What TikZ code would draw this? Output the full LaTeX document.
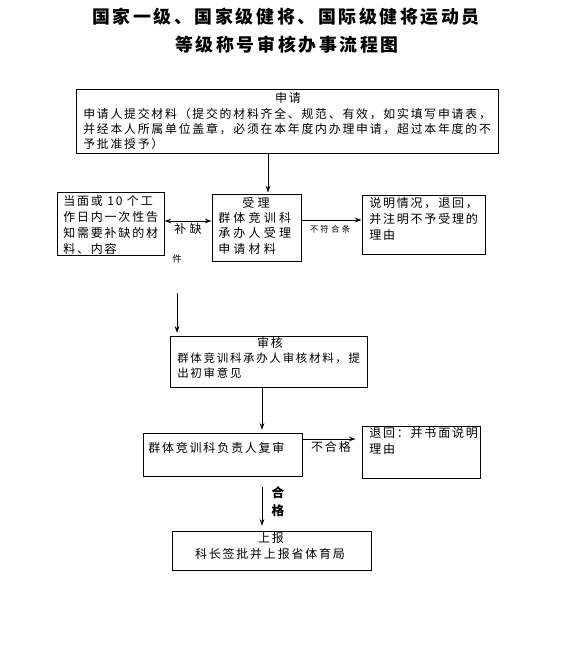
\documentclass[tikz,border=0pt]{standalone}
\usepackage{fontspec}
\usetikzlibrary{arrows.meta,fit}
\newfontfamily\cjk[LetterSpace=15]{Noto Sans CJK SC}
\newfontfamily\cjkwide[LetterSpace=27]{Noto Sans CJK SC}

\begin{document}
\begin{tikzpicture}[x=0.75pt, y=-0.75pt,
    box/.style={draw, line width=0.75pt, inner sep=0pt},
    txt/.style={inner sep=0pt, anchor=north west, align=left, font=\cjk\fontsize{9}{12}\selectfont},
    head/.style={inner sep=0pt, font=\cjk\fontsize{9}{12}\selectfont},
    arr/.style={-{Stealth[length=5pt,width=3.5pt]}, line width=0.75pt},
    darr/.style={{Stealth[length=5pt,width=3.5pt]}-{Stealth[length=5pt,width=3.5pt]}, line width=0.75pt}]

    \useasboundingbox (0,0) rectangle (573,645);

    % title
    \node[font=\cjk\bfseries\fontsize{13.4}{16}\selectfont] (title1) at (286,17) {国家一级、国家级健将、国际级健将运动员};
    \node[font=\cjk\bfseries\fontsize{13.4}{16}\selectfont] (title2) at (287,45) {等级称号审核办事流程图};

    % boxes
    \node[box, fit={(76,90) (498,154)}] (sq) {};
    \node[box, fit={(57,193) (164,255)}] (lb) {};
    \node[box, fit={(212,195) (301,261)}] (sl) {};
    \node[box, fit={(362,196) (485,254)}] (rb) {};
    \node[box, fit={(170,336) (367,387)}] (sh) {};
    \node[box, fit={(143,433) (302,476)}] (fs) {};
    \node[box, fit={(362,426) (480,478)}] (th) {};
    \node[box, fit={(172,531) (371,570)}] (sb) {};

    % texts in the boxes
    \node[head] (sqhead) at (288,98) {申请};
    \node[txt, font=\cjk\fontsize{8.9}{11.3}\selectfont] (sqtxt) at (83,108)
        {申请人提交材料（提交的材料齐全、规范、有效，如实填写申请表，\\并经本人所属单位盖章，必须在本年度内办理申请，超过本年度的不\\予批准授予）};
    \node[txt] (lbtxt) at (63,195) {当面或 10 个工\\作日内一次性告\\知需要补缺的材\\料、内容};
    \node[head, font=\cjkwide\fontsize{9}{12}\selectfont] (slhead) at (256,203) {受理};
    \node[txt, font=\cjkwide\fontsize{9}{11.6}\selectfont] (sltxt) at (218,212) {群体竞训科\\承办人受理\\申请材料};
    \node[txt] (rbtxt) at (369,197) {说明情况，退回，\\并注明不予受理的\\理由};
    \node[head] (shhead) at (270,343) {审核};
    \node[txt, font=\cjk\fontsize{8.6}{10.8}\selectfont] (shtxt) at (177,353) {群体竞训科承办人审核材料，提\\出初审意见};
    \node[head, anchor=west] (fstxt) at (148,448) {群体竞训科负责人复审};
    \node[txt] (thtxt) at (369,427.5) {退回：并书面说明\\理由};
    \node[head] (sbhead) at (271,538) {上报};
    \node[head] (sbtxt) at (270,554) {科长签批并上报省体育局};

    % connectors
    \coordinate (a1) at (268,0);
    \coordinate (a2) at (0,221);
    \coordinate (a3) at (0,220);
    \coordinate (a4) at (262,0);
    \coordinate (a5) at (0,439);
    \coordinate (bq) at (177,293);
    \draw[arr, shorten >=1.5pt] (sq.south -| a1) -- (sl.north -| a1);
    \draw[darr] (lb.east |- a2) -- (sl.west |- a2);
    \draw[arr] (sl.east |- a3) -- (rb.west |- a3);
    \draw[arr, shorten >=2pt] (bq) -- (bq |- sh.north);
    \draw[arr, shorten >=2pt] (sh.south -| a4) -- (fs.north -| a4);
    \draw[arr, shorten >=4.5pt] (fs.east |- a5) -- (th.west |- a5);
    \draw[arr, shorten <=8pt, shorten >=3.5pt] (fs.south -| a4) -- (sb.north -| a4);

    % labels
    \node[head, font=\cjkwide\fontsize{9}{12}\selectfont] (bqlbl) at (188,229) {补缺};
    \node[head, font=\cjk\fontsize{7}{9}\selectfont] (jianlbl) at (177,259) {件};
    \node[head, font=\cjkwide\fontsize{6.3}{8}\selectfont] (bfhlbl) at (330,229) {不符合条};
    \node[head, font=\cjk\fontsize{9}{12}\selectfont] (bhglbl) at (331,447) {不合格};
    \node[head, align=center, font=\cjk\bfseries\fontsize{9.5}{13.5}\selectfont] (hglbl) at (278,502) {合\\格};
\end{tikzpicture}
\end{document}
